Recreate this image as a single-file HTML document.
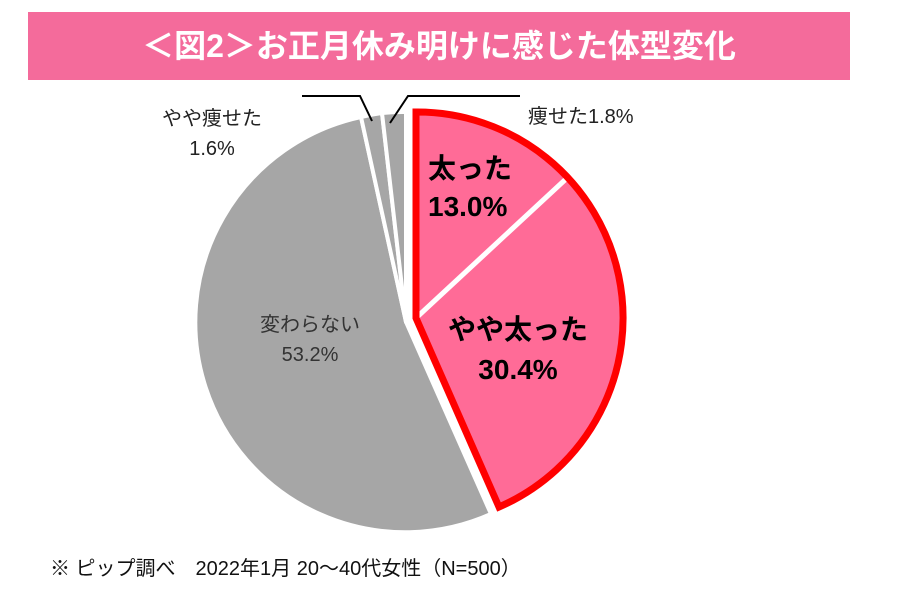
<!DOCTYPE html>
<html><head><meta charset="utf-8"><style>
html,body{margin:0;padding:0;background:#fff;}
body{width:902px;height:612px;position:relative;overflow:hidden;font-family:"Liberation Sans","Noto Sans CJK JP",sans-serif;}
.t{position:absolute;white-space:nowrap;}
</style></head><body>
<div style="position:absolute;left:28px;top:12px;width:822px;height:68px;background:#f46b9b;"></div>
<div class="t" style="left:28px;top:12px;width:822px;height:68px;line-height:68px;text-align:center;color:#fff;font-size:32px;font-weight:bold;">＜図2＞お正月休み明けに感じた体型変化</div>
<svg width="902" height="612" style="position:absolute;left:0;top:0">
<g stroke="#fff" stroke-width="4" fill="#a6a6a6" stroke-linejoin="round">
<path d="M406,322 L491,514 A210,210 0 1 1 361,117 Z"/>
<path d="M406,322 L361,117 A210,210 0 0 1 382,113 Z"/>
<path d="M406,322 L382,113 A210,210 0 0 1 406,112 Z"/>
</g>
<g fill="#ff6b97">
<path d="M416,318 L416,112 A206,206 0 0 1 567,178 Z"/>
<path d="M416,318 L567,178 A206,206 0 0 1 499,507 Z"/>
</g>
<line x1="416" y1="318" x2="567" y2="178" stroke="#fff" stroke-width="5"/>
<path d="M416,318 L416,112 A206,206 0 0 1 499,507 Z" fill="none" stroke="#f00" stroke-width="7" stroke-linejoin="miter"/>
<polyline points="302,96 360,96 372,121" fill="none" stroke="#000" stroke-width="2"/>
<polyline points="390,123 408,96 520,96" fill="none" stroke="#000" stroke-width="2"/>
</svg>
<div class="t" style="left:162px;top:104px;font-size:20px;color:#222;text-align:center;line-height:30px;">やや痩せた<br>1.6%</div>
<div class="t" style="left:528px;top:100px;font-size:20px;color:#222;">痩せた1.8%</div>
<div class="t" style="left:428px;top:150px;font-size:28px;font-weight:bold;line-height:38px;color:#000;">太った<br>13.0%</div>
<div class="t" style="left:438px;top:310px;width:160px;text-align:center;font-size:28px;font-weight:bold;line-height:40px;color:#000;">やや太った<br>30.4%</div>
<div class="t" style="left:250px;top:310px;width:120px;text-align:center;font-size:20px;line-height:30px;color:#333;">変わらない<br>53.2%</div>
<div class="t" style="left:50px;top:552px;font-size:20px;color:#111;">※ ピップ調べ　2022年1月 20～40代女性（N=500）</div>
</body></html>
